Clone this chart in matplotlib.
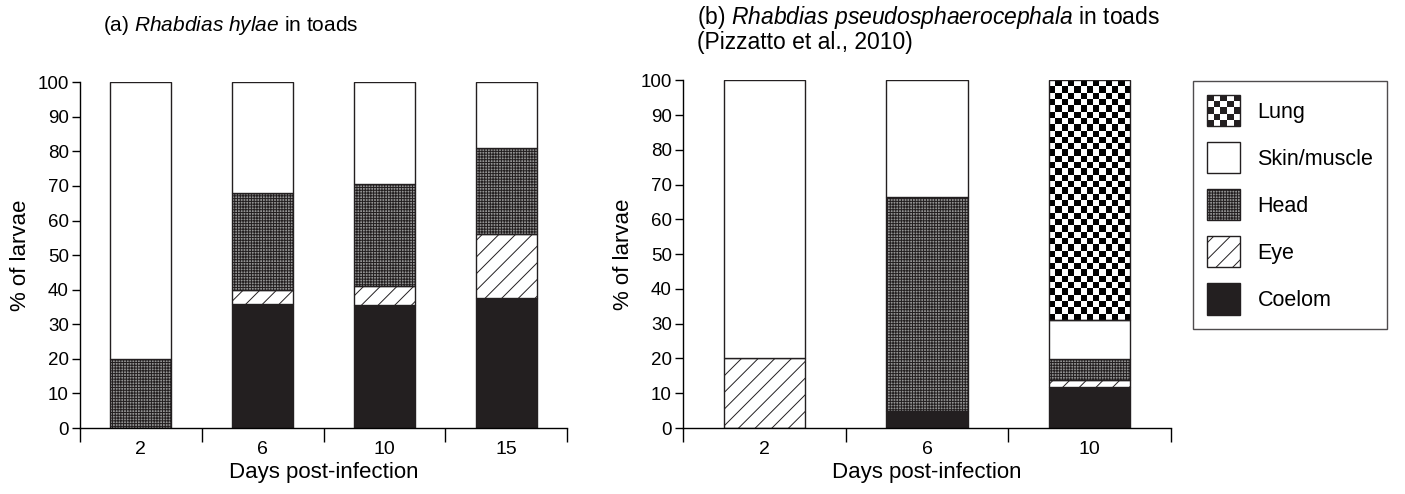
import numpy as np
import matplotlib
matplotlib.use("Agg")
import matplotlib.pyplot as plt
from matplotlib.patches import Rectangle
from matplotlib.legend_handler import HandlerPatch

plt.rcParams['font.family'] = ['Liberation Sans', 'DejaVu Sans']
plt.rcParams['mathtext.fontset'] = 'custom'
plt.rcParams['mathtext.rm'] = 'Liberation Sans'
plt.rcParams['mathtext.it'] = 'Liberation Sans:italic'
plt.rcParams['hatch.linewidth'] = 0.7

# data (% of larvae per site)
days_a = ['2', '6', '10', '15']
coelom_a = [0, 36, 35.5, 37.5]
eye_a = [0, 4, 5.5, 18.5]
head_a = [20, 28, 29.5, 25]
skin_a = [80, 32, 29.5, 19]
lung_a = [0, 0, 0, 0]

days_b = ['2', '6', '10']
coelom_b = [0, 5, 11.7]
eye_b = [20, 0, 2]
head_b = [0, 61.5, 6]
skin_b = [80, 33.5, 11.3]
lung_b = [0, 0, 69]

styles = {
    'Coelom': dict(facecolor='#231f20', hatch=None),
    'Eye': dict(facecolor='white', hatch='//'),
    'Head': dict(facecolor='#939393', hatch='++++++'),
    'Skin/muscle': dict(facecolor='white', hatch=None),
    'Lung': dict(facecolor='none', hatch=None),
}
INK = '#231f20'

fig = plt.figure(figsize=(14.05, 4.94), dpi=100)
ax_a = fig.add_axes([0.0569, 0.1336, 0.3467, 0.700])
ax_b = fig.add_axes([0.4861, 0.1336, 0.3473, 0.704])


def checker(ax, bar, cell_px=6.3):
    # checkerboard texture clipped to the bar
    fig.canvas.draw()
    x0, y0 = bar.get_x(), bar.get_y()
    x1, y1 = x0 + bar.get_width(), y0 + bar.get_height()
    p0 = ax.transData.transform((x0, y0))
    p1 = ax.transData.transform((x1, y1))
    nx = max(1, int(round((p1[0] - p0[0]) / cell_px)))
    ny = max(1, int(round((p1[1] - p0[1]) / cell_px)))
    img = (np.add.outer(np.arange(ny), np.arange(nx)) % 2).astype(float)
    im = ax.imshow(img, cmap='gray_r', extent=(x0, x1, y0, y1), aspect='auto',
                   interpolation='nearest', zorder=bar.get_zorder() - 0.05,
                   vmin=0, vmax=1)
    im.set_clip_path(bar)


def panel(ax, days, series):
    x = np.arange(len(days))
    ax.set_xlim(-0.5, len(days) - 0.5)
    ax.set_ylim(0, 100)
    bottom = np.zeros(len(days))
    lung_bars = []
    for name, vals in series:
        vals = np.array(vals, dtype=float)
        st = styles[name]
        bars = ax.bar(x, vals, 0.5, bottom=bottom, facecolor=st['facecolor'],
                      hatch=st['hatch'], edgecolor=INK, linewidth=1.0,
                      zorder=2)
        for b, v in zip(bars, vals):
            if v == 0:
                b.set_visible(False)
            elif name == 'Lung':
                lung_bars.append(b)
        bottom += vals
    for b in lung_bars:
        checker(ax, b)
    ax.set_xlim(-0.5, len(days) - 0.5)
    ax.set_ylim(0, 100)
    ax.spines['top'].set_visible(False)
    ax.spines['right'].set_visible(False)
    ax.spines['left'].set_linewidth(1.0)
    ax.spines['bottom'].set_linewidth(1.0)
    ax.set_yticks(range(0, 101, 10))
    ax.set_xticks(x)
    ax.set_xticklabels(days)
    ax.set_xticks(np.arange(-0.5, len(days)), minor=True)
    ax.tick_params(axis='x', which='major', length=0, pad=9, labelsize=14)
    ax.tick_params(axis='x', which='minor', length=10, width=1.0)
    ax.tick_params(axis='y', length=6, width=1.0, labelsize=13.5, pad=2)
    ax.set_xlabel('Days post-infection', fontsize=16, labelpad=3)
    ax.set_ylabel('% of larvae', fontsize=16, labelpad=5)


series_a = [('Coelom', coelom_a), ('Eye', eye_a), ('Head', head_a),
            ('Skin/muscle', skin_a), ('Lung', lung_a)]
series_b = [('Coelom', coelom_b), ('Eye', eye_b), ('Head', head_b),
            ('Skin/muscle', skin_b), ('Lung', lung_b)]

panel(ax_a, days_a, series_a)
panel(ax_b, days_b, series_b)

fig.text(0.0733, 0.972, r'(a) $\it{Rhabdias\ hylae}$ in toads', fontsize=15,
         va='top', ha='left')
fig.text(0.496, 0.992,
         r'(b) $\it{Rhabdias\ pseudosphaerocephala}$ in toads' + '\n(Pizzatto et al., 2010)',
         fontsize=16.5, va='top', ha='left', linespacing=1.02)


class CheckerHandler(HandlerPatch):
    def create_artists(self, legend, orig_handle, xdescent, ydescent,
                       width, height, fontsize, trans):
        n = 5
        cw, ch = width / n, height / n
        arts = []
        for i in range(n):
            for j in range(n):
                if (i + j) % 2 == 0:
                    arts.append(Rectangle((-xdescent + i * cw, -ydescent + j * ch),
                                          cw, ch, facecolor=INK,
                                          edgecolor='none', transform=trans))
        arts.append(Rectangle((-xdescent, -ydescent), width, height,
                              facecolor='none', edgecolor=INK, lw=1.0,
                              transform=trans))
        return arts


handles = []
labels = []
for name in ['Lung', 'Skin/muscle', 'Head', 'Eye', 'Coelom']:
    st = styles[name]
    fc = 'white' if name == 'Lung' else st['facecolor']
    handles.append(Rectangle((0, 0), 1, 1, facecolor=fc,
                             hatch=st['hatch'], edgecolor=INK, lw=1.0))
    labels.append(name)

leg = fig.legend(handles, labels, loc='upper left',
                 bbox_to_anchor=(0.849, 0.836), fontsize=15.5,
                 frameon=True, fancybox=False, edgecolor=INK,
                 handlelength=1.55, handleheight=1.85, labelspacing=0.74,
                 handletextpad=0.8, borderpad=0.65, borderaxespad=0,
                 handler_map={handles[0]: CheckerHandler()})
leg.get_frame().set_linewidth(1.0)

fig.savefig('out.png', dpi=100)
